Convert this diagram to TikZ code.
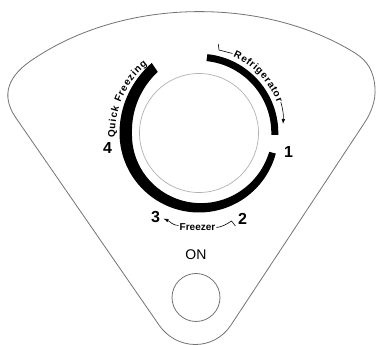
\documentclass[tikz,border=0pt]{standalone}
\usepackage{fontspec}
\setmainfont{Liberation Sans}
\usetikzlibrary{arrows.meta}
\begin{document}
\begin{tikzpicture}[x=1pt,y=1pt,
  declare function={fl(\t)=max(180-\t,0)/56; rout(\t)=79.5+5*fl(\t)*fl(\t); wd(\t)=6.8+5.7*min(345-\t,165)/165-1.8*fl(\t);},
  panel/.style={draw=black!55, line width=0.8pt},
  dialring/.style={draw=black!30, line width=0.7pt},
  lbl/.style={font=\bfseries\fontsize{10}{11}\selectfont, inner sep=0pt},
  letter/.style={lbl, anchor=base},
  num/.style={font=\bfseries\fontsize{16}{17}\selectfont, inner sep=0pt},
  leader/.style={draw=black, line width=0.6pt},
  leadarrow/.style={-{Latex[length=5pt,width=3.5pt]}}
]
\fill[white] (0,0) rectangle (376,-345);
\useasboundingbox (0,0) rectangle (376,-345);
\coordinate (c) at (199,-133);
% panel outline
\path[panel] (16,-118) -- (159,-325) .. controls (177,-351) and (214,-351) .. (231,-325)
  -- (365,-122) .. controls (371,-113) and (376,-100) .. (375,-88)
  .. controls (374,-72) and (368,-61) .. (355,-53)
  .. controls (265,3) and (127,3) .. (35,-58)
  .. controls (8,-75) and (0,-95) .. (16,-118) -- cycle;
% dial
\draw[dialring] (c) circle[radius=59.5];
\fill[black] plot[domain=124:345, samples=90, variable=\t] ({199+rout(\t)*cos(\t)}, {-133+rout(\t)*sin(\t)})
  -- plot[domain=345:124, samples=90, variable=\t] ({199+(rout(\t)-wd(\t))*cos(\t)}, {-133+(rout(\t)-wd(\t))*sin(\t)}) -- cycle;
\draw[line width=7pt] (c) ++(84:75.8) arc[start angle=84, end angle=-1.5, radius=75.8];
% Refrigerator
\foreach \ch/\a [count=\i] in {R/63.5,e/58.6,f/55.1,r/52.1,i/49.3,g/45.8,e/41.3,r/37.6,a/33.8,t/30.3,o/26.6,r/22.6}
  \path (c) ++(\a:83.8) node[letter, rotate=\a-90] (ref\i) {\ch};
\coordinate (refA) at (218.3,-44);
\coordinate (refB) at (219,-50);
\coordinate (refC) at (232.5,-53.5);
\draw[leader] (refA) -- (refB) -- (refC);
\coordinate (refD) at (280.8,-102);
\coordinate (refTip) at (283,-124);
\draw[leader, leadarrow] (refD) to[bend left=10] (refTip);
% Quick Freezing
\foreach \ch/\a [count=\i] in {Q/180.5,u/175.3,i/171.7,c/168.3,k/164.0,F/157.0,r/153.0,e/149.3,e/145.0,z/140.8,i/137.6,n/134.0,g/129.3}
  \path (c) ++(\a:{83.8+2*fl(\a)*fl(\a)}) node[letter, rotate=\a-90] (qf\i) {\ch};
% Freezer
\node[lbl] (frz) at (197.5,-227.5) {Freezer};
\coordinate (fzL) at (178.5,-225.5);
\coordinate (fzTip) at (163.5,-218.5);
\draw[leader, leadarrow] (fzL) .. controls (173,-225.5) and (170,-221.5) .. (fzTip);
\coordinate (fzR) at (216.5,-227.5);
\coordinate (fzH) at (231.5,-221);
\coordinate (fzE) at (235.5,-226);
\draw[leader] (fzR) .. controls (222,-227) and (227,-224) .. (fzH) -- (fzE);
% numbers
\node[num] (n1) at (288.5,-152) {1};
\node[num] (n2) at (242.5,-218.5) {2};
\node[num] (n3) at (155.5,-217) {3};
\node[num] (n4) at (107.5,-147.5) {4};
% ON button
\node[font=\fontsize{14}{15}\selectfont, inner sep=0pt] (on) at (196,-255) {ON};
\draw[panel] (196,-297.5) circle[radius=24];
\end{tikzpicture}
\end{document}
